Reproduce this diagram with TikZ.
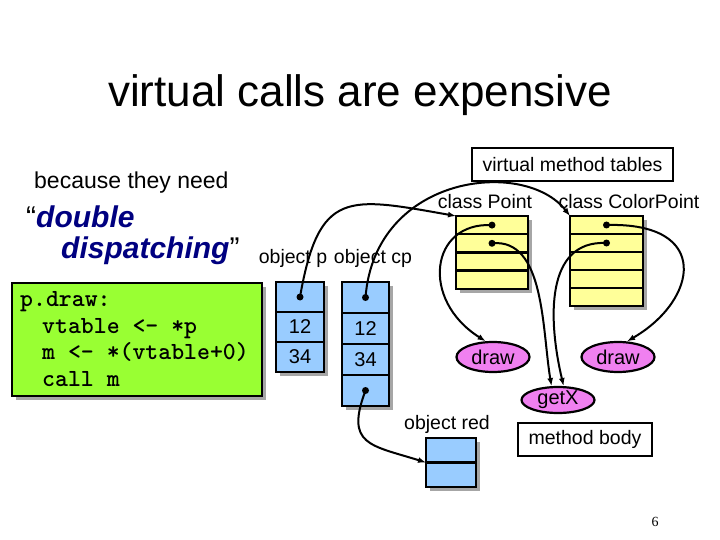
\documentclass[tikz,border=0pt]{standalone}
\usepackage{fontspec}
\setmainfont{Liberation Sans}
\newfontfamily\pagenumfont{Liberation Serif}
\usepackage{xcolor}
\usetikzlibrary{positioning,arrows.meta,shapes.geometric,shadows}

\definecolor{objblue}{HTML}{99CCFF}
\definecolor{vtyellow}{HTML}{FFFF99}
\definecolor{codegreen}{HTML}{99FF33}
\definecolor{methpink}{HTML}{F080F0}
\definecolor{navytext}{HTML}{000080}

\begin{document}
\begin{tikzpicture}[
  x=1pt, y=-1pt,
  shade/.style={drop shadow={shadow xshift=4pt, shadow yshift=-4pt, fill=black!35, opacity=1}},
  cell/.style={draw, line width=2.4pt, fill=objblue, shade, minimum width=48pt, minimum height=30pt, inner sep=0pt, outer sep=0pt, font=\fontsize{20}{24}\selectfont},
  vtrow/.style={draw, line width=2.4pt, fill=vtyellow, shade, minimum width=72pt, minimum height=18.2pt, inner sep=0pt, outer sep=0pt},
  meth/.style={ellipse, draw, line width=2.2pt, fill=methpink, minimum width=73pt, minimum height=30pt, inner sep=0pt, font=\fontsize{20}{24}\selectfont},
  labelbox/.style={draw, line width=2.4pt, fill=white, inner sep=0pt, font=\fontsize{19.5}{23}\selectfont},
  lbl/.style={inner sep=0pt, font=\fontsize{19.5}{23}\selectfont},
  arr/.style={-{Latex[length=8pt,width=6pt]}, line width=2pt},
  dot/.style={fill=black}
]
\useasboundingbox (0,0) rectangle (720,540);

% title and left-hand text
\node[font=\fontsize{44}{50}\selectfont] (title) at (360,95) {virtual calls are expensive};
\node[lbl, anchor=west, font=\fontsize{23}{26}\selectfont] (need) at (34,183) {because they need};
\node[lbl, anchor=west, font=\fontsize{30}{34}\selectfont] (dbl) at (26,217) {“\textcolor{navytext}{\bfseries\itshape double}};
\node[lbl, anchor=west, font=\fontsize{30}{34}\selectfont] (disp) at (61,251) {\textcolor{navytext}{\bfseries\itshape dispatching}”};

\node[draw, line width=2.4pt, fill=codegreen, shade, minimum width=250pt, minimum height=113pt] (code) at (137,339.5) {};
\node[anchor=west, inner sep=0pt, align=left, font=\ttfamily\bfseries\fontsize{24.6}{26.7}\selectfont] (codetext) at (20,339)
  {p.draw:\\
   \hspace*{22pt}vtable <- *p\\
   \hspace*{22pt}m <- *(vtable+0)\\
   \hspace*{22pt}call m};

% objects
\node[lbl] (objp) at (293,258) {object p};
\node[lbl] (objcp) at (373,258) {object cp};
\node[cell] (op1) at (300,297) {};
\node[cell, below=0pt of op1] (op2) {12};
\node[cell, below=0pt of op2] (op3) {34};
\node[cell, minimum width=47pt, minimum height=31pt] (ocp1) at (365.5,297.5) {};
\node[cell, minimum width=47pt, minimum height=31pt, below=0pt of ocp1] (ocp2) {12};
\node[cell, minimum width=47pt, minimum height=31pt, below=0pt of ocp2] (ocp3) {34};
\node[cell, minimum width=47pt, minimum height=31pt, below=0pt of ocp3] (ocp4) {};

\node[lbl] (objred) at (447,424) {object red};
\node[cell, minimum width=50pt, minimum height=24.5pt] (red1) at (451,450.25) {};
\node[cell, minimum width=50pt, minimum height=24.5pt, below=0pt of red1] (red2) {};

% virtual method tables
\node[labelbox, minimum width=201pt, minimum height=33pt] (vmt) at (572.5,164.5) {virtual method tables};
\node[lbl] (clsp) at (485,202) {class Point};
\node[lbl] (clscp) at (629,202) {class ColorPoint};
\node[vtrow] (pt1) at (492,225.1) {};
\node[vtrow, below=0pt of pt1] (pt2) {};
\node[vtrow, below=0pt of pt2] (pt3) {};
\node[vtrow, below=0pt of pt3] (pt4) {};
\node[vtrow, minimum width=73pt, minimum height=18pt] (cpt1) at (606.5,225) {};
\node[vtrow, minimum width=73pt, minimum height=18pt, below=0pt of cpt1] (cpt2) {};
\node[vtrow, minimum width=73pt, minimum height=18pt, below=0pt of cpt2] (cpt3) {};
\node[vtrow, minimum width=73pt, minimum height=18pt, below=0pt of cpt3] (cpt4) {};
\node[vtrow, minimum width=73pt, minimum height=18pt, below=0pt of cpt4] (cpt5) {};

% method bodies
\node[meth] (drawA) at (493,357) {draw};
\node[meth] (drawB) at (618,357) {draw};
\node[meth, minimum height=26pt] (getX) at (558,400) {getX};
\node[labelbox, minimum width=134pt, minimum height=33pt] (body) at (585,439.5) {method body};

\node[font=\pagenumfont\fontsize{14}{16}\selectfont] (pagenum) at (655,522) {6};

% pointers
\foreach \n in {op1,ocp1,ocp4,pt1,pt2,cpt1,cpt2}
  \fill[dot] (\n.center) circle (3.5pt);

\draw[arr] (op1.center) .. controls (319,189) and (348,197) .. (pt1.north west);
\draw[arr] (ocp1.center) .. controls (375,174) and (525,158) .. (cpt1.north west);
\draw[arr] (pt1.center) .. controls (430,222) and (420,300) .. (drawA.115);
\draw[arr] (pt2.center) .. controls (545,238) and (542,330) .. (getX.115);
\draw[arr] (cpt2.center) .. controls (545,240) and (548,320) .. (getX.68);
\draw[arr] (cpt1.center) .. controls (712,222) and (698,300) .. (drawB.60);
\draw[arr] (ocp4.center) .. controls (345,445) and (370,445) .. (red1.south west);
\end{tikzpicture}
\end{document}
